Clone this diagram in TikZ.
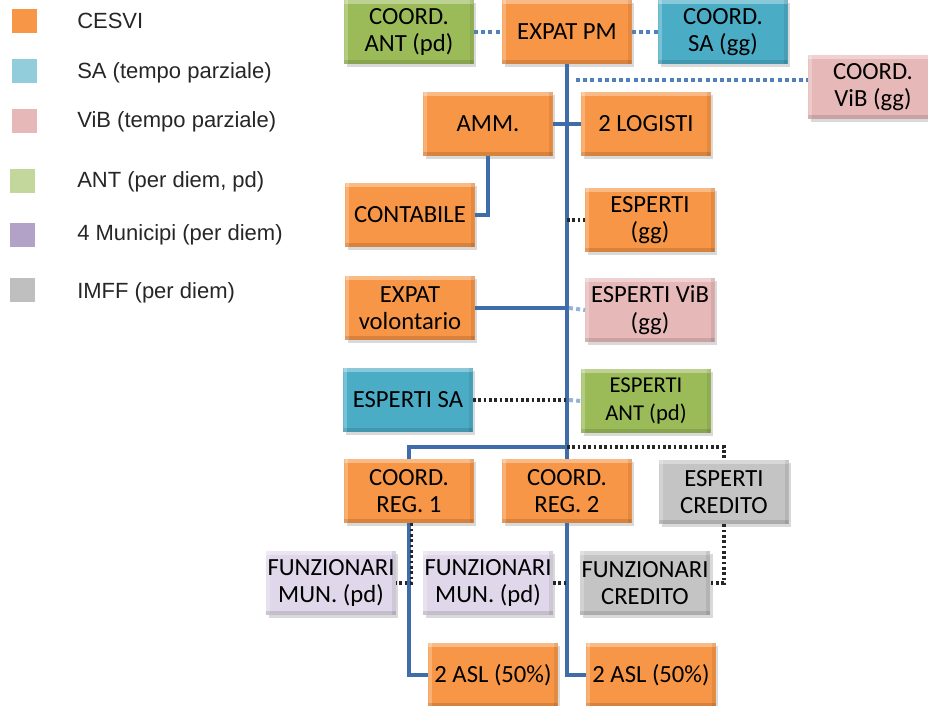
\documentclass[tikz,border=0pt]{standalone}
\usepackage{fontspec}
\usepackage{xcolor}
\usepackage{tikz}
\usetikzlibrary{shapes, shadows}
\setmainfont{Carlito}
\newfontfamily\arialfont{Liberation Sans}
\definecolor{cesvi}{HTML}{F79646}
\definecolor{antgreen}{HTML}{9BBB59}
\definecolor{sablue}{HTML}{4BACC6}
\definecolor{vibpink}{HTML}{E6B9B8}
\definecolor{munlilac}{HTML}{E0D8EA}
\definecolor{imffgrey}{HTML}{C4C4C4}
\definecolor{lsa}{HTML}{92CDDC}
\definecolor{lant}{HTML}{C3D69B}
\definecolor{lmun}{HTML}{B3A2C7}
\definecolor{lgrey}{HTML}{BFBFBF}
\definecolor{lineblue}{HTML}{3E6DAA}
\definecolor{dotblue}{HTML}{4F81BD}
\definecolor{paleblue}{HTML}{95B3D7}
\tikzstyle{box} = [rectangle, text centered, align=center, minimum width=97pt, minimum height=48pt, inner sep=1pt, font=\fontsize{18.5}{20.5}\selectfont,
  drop shadow={shadow xshift=2pt, shadow yshift=-2pt, opacity=0.3},
  path picture={
    \fill[white, opacity=0.35] (path picture bounding box.north west) rectangle ([yshift=-3pt]path picture bounding box.north east);
    \fill[white, opacity=0.25] (path picture bounding box.north west) rectangle ([xshift=3pt]path picture bounding box.south west);
    \fill[black, opacity=0.12] (path picture bounding box.south west) rectangle ([yshift=3pt]path picture bounding box.south east);
    \fill[black, opacity=0.08] (path picture bounding box.north east) rectangle ([xshift=-3pt]path picture bounding box.south east);}]
\tikzstyle{legendsq} = [rectangle, minimum width=18.5pt, minimum height=18pt, inner sep=0pt]
\tikzstyle{legendtext} = [anchor=west, inner sep=0pt, font=\arialfont\fontsize{16.5}{19}\selectfont, text=black!85]
\tikzstyle{line} = [draw, line width=2.5pt, color=lineblue]
\tikzstyle{blackdots} = [draw, line width=2.5pt, black!85, dash pattern=on 2pt off 2pt]
\tikzstyle{bluedots} = [draw, line width=3pt, dotblue, dash pattern=on 3pt off 2.4pt]
\tikzstyle{palebluedots} = [draw, line width=3pt, paleblue, dash pattern=on 3pt off 2.4pt]

\begin{document}
\begin{tikzpicture}[x=0.75pt, y=-0.75pt]
        \useasboundingbox (0,0) rectangle (928,706);
        % legenda
        \node [legendsq, fill=cesvi] at (24.5,21) (lcesvi) {};
        \node [legendsq, fill=lsa] at (24.5,71) (lsa) {};
        \node [legendsq, fill=vibpink] at (24.5,121) (lvib) {};
        \node [legendsq, fill=lant] at (22.5,181) (lant) {};
        \node [legendsq, fill=lmun] at (22.5,235) (lmun) {};
        \node [legendsq, fill=lgrey] at (22.5,290) (limff) {};
        \node [legendtext] at (77,21) (tcesvi) {CESVI};
        \node [legendtext] at (77,73) (tsa) {SA (tempo parziale)};
        \node [legendtext] at (77,122) (tvib) {ViB (tempo parziale)};
        \node [legendtext] at (77,182) (tant) {ANT (per diem, pd)};
        \node [legendtext] at (77,235) (tmun) {4 Municipi (per diem)};
        \node [legendtext] at (77,293) (timff) {IMFF (per diem)};

        % organigramma
        \node [box, fill=antgreen] at (409,32) (antcoord) {COORD.\\ANT (pd)};
        \node [box, fill=cesvi] at (567,32) (pm) {EXPAT PM};
        \node [box, fill=sablue] at (723,32) (sacoord) {COORD.\\SA (gg)};
        \node [box, fill=vibpink] at (873,87) (vibcoord) {COORD.\\ViB (gg)};
        \node [box, fill=cesvi] at (488,124) (amm) {AMM.};
        \node [box, fill=cesvi] at (646,124) (logisti) {2 LOGISTI};
        \node [box, fill=cesvi] at (410,215) (contabile) {CONTABILE};
        \node [box, fill=cesvi] at (650,220) (esperti) {ESPERTI\\(gg)};
        \node [box, fill=cesvi] at (410,308) (volont) {EXPAT\\volontario};
        \node [box, fill=vibpink] at (650,310) (espvib) {ESPERTI ViB\\(gg)};
        \node [box, fill=sablue] at (408,400) (espsa) {ESPERTI SA};
        \node [box, fill=antgreen] at (646,401) (espant) {\fontsize{17}{18}\selectfont ESPERTI\\\fontsize{17}{18}\selectfont ANT (pd)};
        \node [box, fill=cesvi] at (409,491) (reg1) {COORD.\\REG. 1};
        \node [box, fill=cesvi] at (567,491) (reg2) {COORD.\\REG. 2};
        \node [box, fill=imffgrey] at (724,492) (credito) {ESPERTI\\CREDITO};
        \node [box, fill=munlilac] at (331,583) (funmun1) {FUNZIONARI\\MUN. (pd)};
        \node [box, fill=munlilac] at (488,583) (funmun2) {FUNZIONARI\\MUN. (pd)};
        \node [box, fill=imffgrey] at (645,583) (funcred) {FUNZIONARI\\CREDITO};
        \node [box, fill=cesvi] at (493,675) (asl1) {2 ASL (50\%)};
        \node [box, fill=cesvi] at (651,675) (asl2) {2 ASL (50\%)};

        \coordinate (vibtap) at (576,80);
        \coordinate (split) at (567,447);

        \path [bluedots] (antcoord.east) -- (pm.west);
        \path [bluedots] (pm.east) -- (sacoord.west);
        \path [bluedots] (vibtap) -- (vibtap -| vibcoord.west);
        \path [line] (pm.south) -- (reg2.north);
        \path [line] (amm.east) -- (logisti.west);
        \path [line] (amm.south) |- (contabile.east);
        \path [blackdots] (esperti.west -| pm.south) -- (esperti.west);
        \path [line] (volont.east) -- (volont.east -| pm.south);
        \path [palebluedots] ([xshift=1.5pt]volont.east -| pm.south) -- (espvib.west);
        \path [blackdots] (espsa.east) -- (espsa.east -| pm.south);
        \path [palebluedots] ([xshift=1.5pt]espsa.east -| pm.south) -- (espant.west);
        \path [line] (split) -| (reg1.north);
        \path [blackdots] (split) -| (credito.north);
        \path [blackdots] (credito.south) |- (funcred.east);
        \path [line] (reg1.south) |- (asl1.west);
        \path [line] (reg2.south) |- (asl2.west);
        \path [blackdots] ([xshift=2pt]reg1.south) |- (funmun1.east);
        \path [blackdots] (funmun2.east) -- (funmun2.east -| reg2.south);
    \end{tikzpicture}
\end{document}
